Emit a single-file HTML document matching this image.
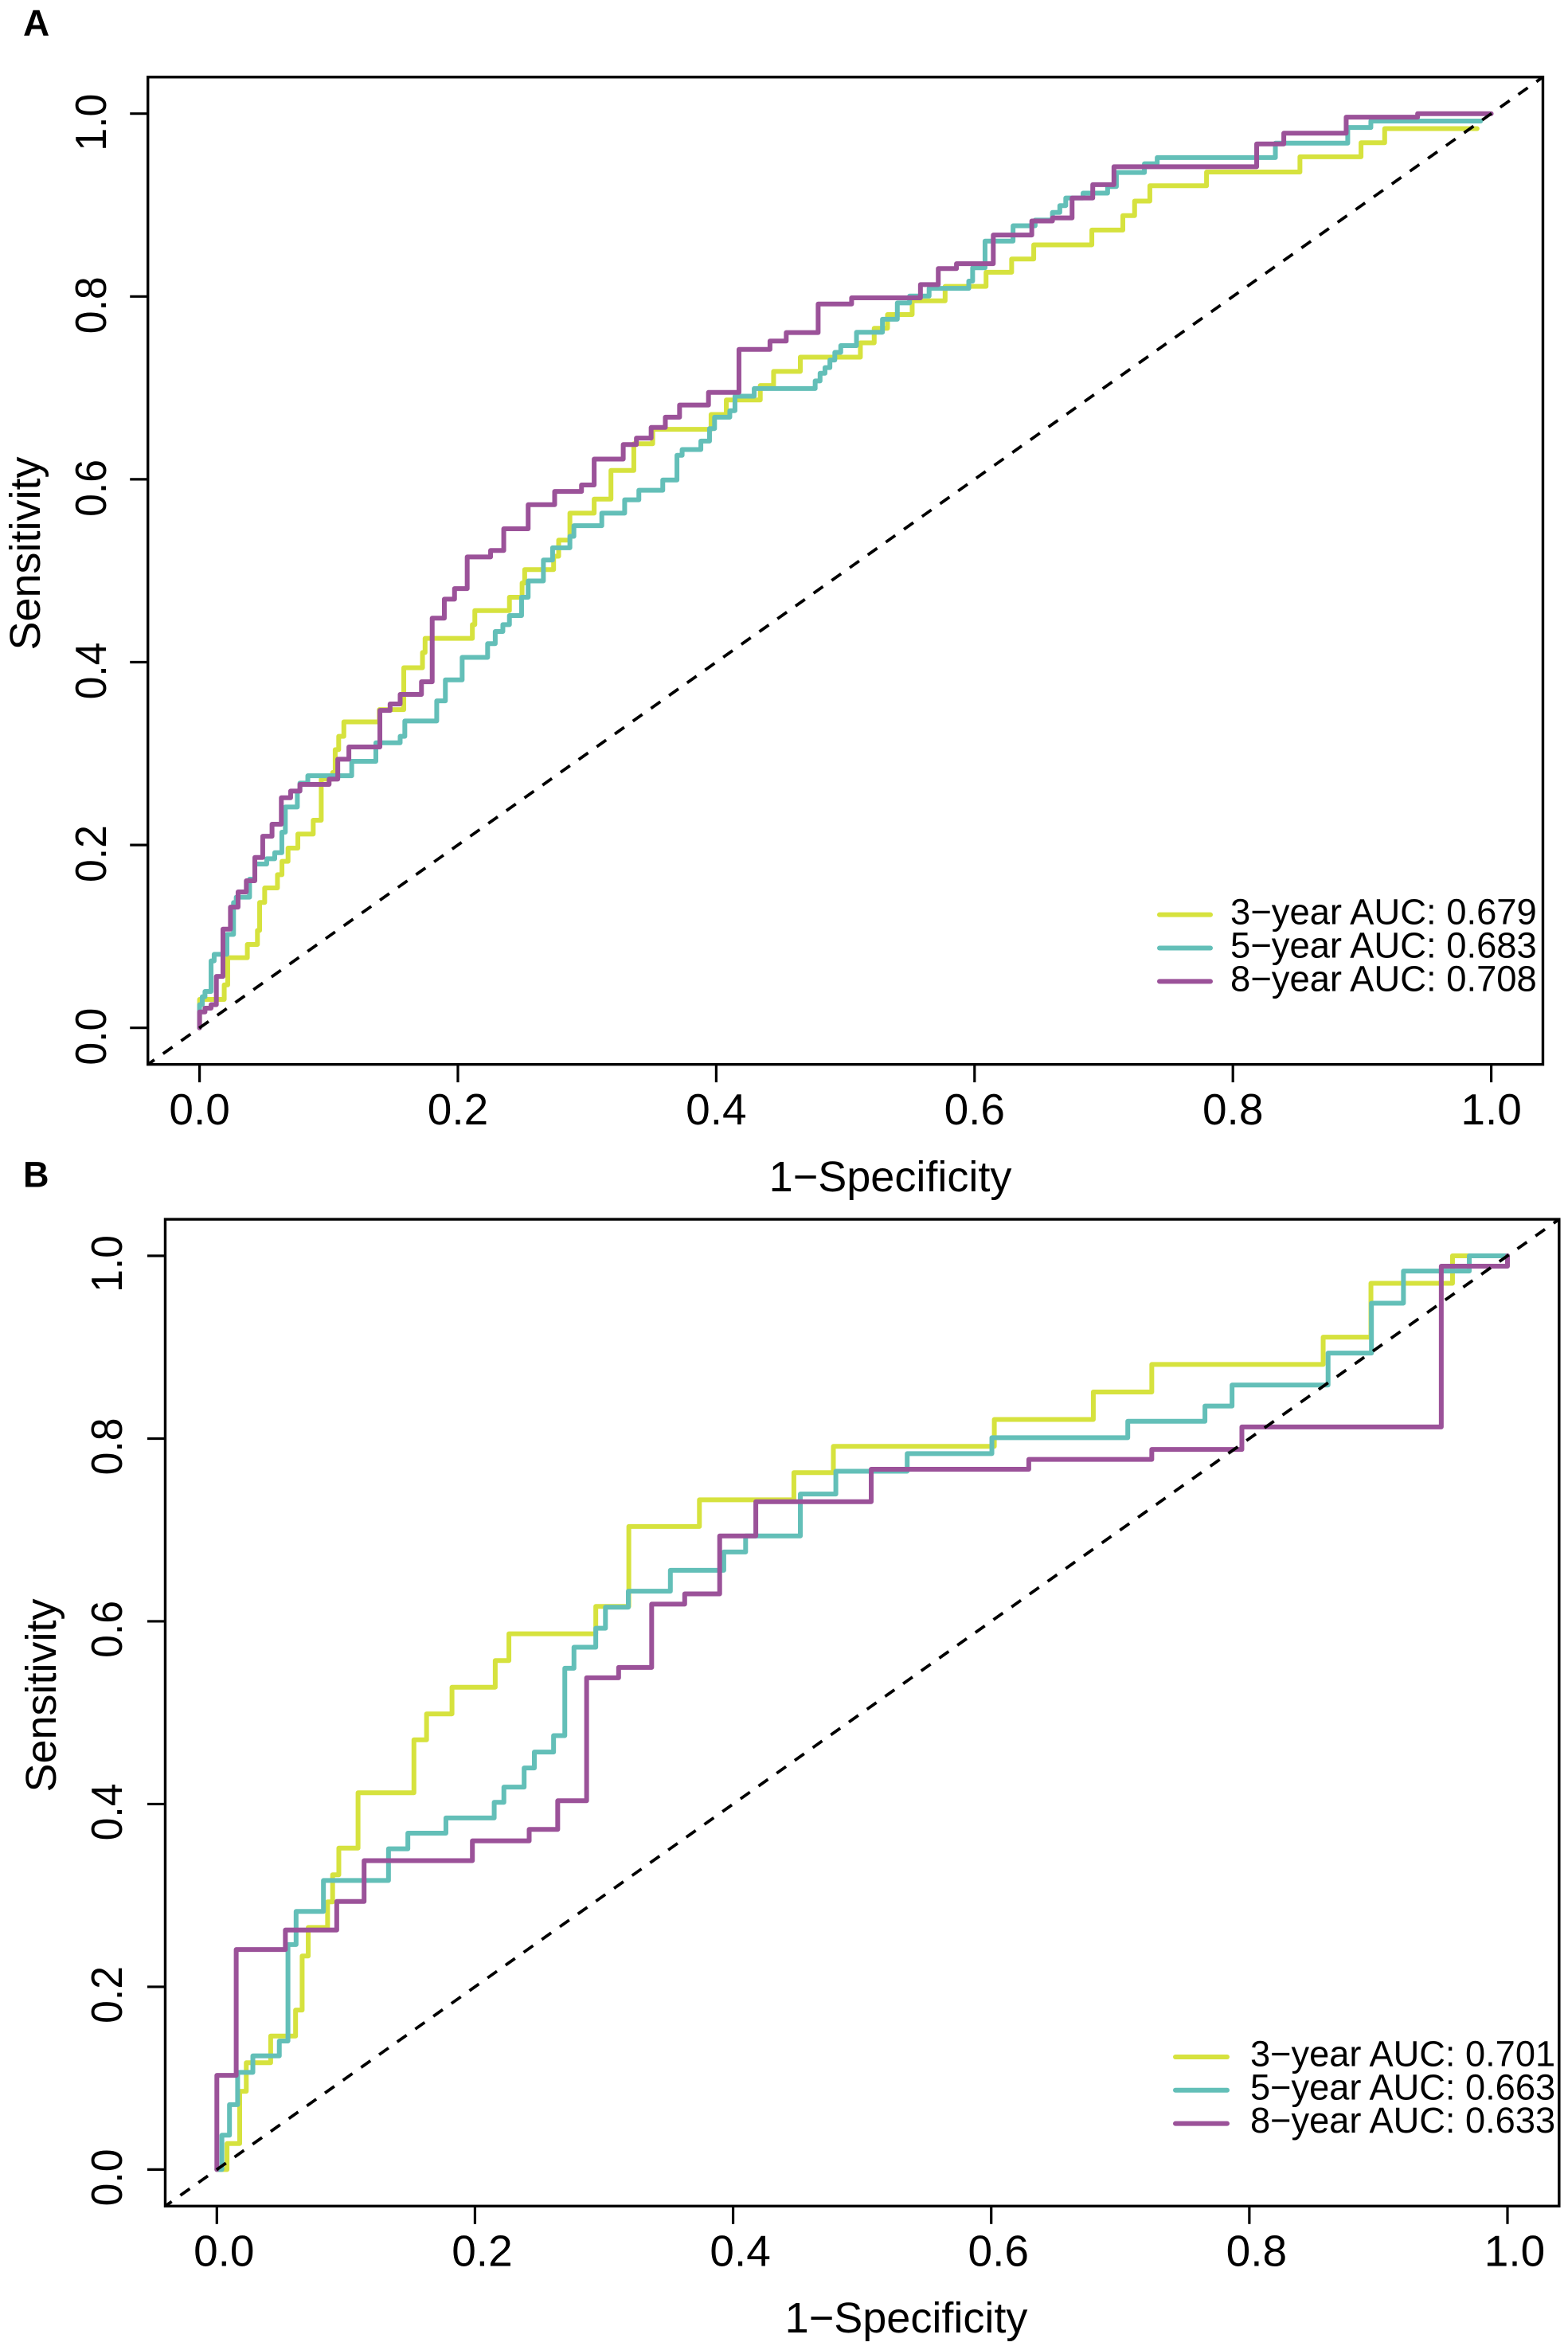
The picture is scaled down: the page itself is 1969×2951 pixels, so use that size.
<!DOCTYPE html>
<html lang="en">
<head>
<meta charset="utf-8">
<title>Time-dependent ROC curves</title>
<style>
html,body{margin:0;padding:0;background:#fff;}
body{width:1969px;height:2951px;overflow:hidden;}
svg{display:block;position:absolute;left:0;top:0;}
text{font-family:"Liberation Sans",Arial,sans-serif;fill:#000;}
</style>
</head>
<body>
<svg id="figure" xmlns="http://www.w3.org/2000/svg" width="1969" height="2951" viewBox="0 0 1969 2951">
  <rect x="0" y="0" width="1969" height="2951" fill="#fff"/>
  <text x="29" y="44.5" font-size="46" font-weight="700">A</text>
  <text x="29" y="1490.5" font-size="45" font-weight="700">B</text>
  <g id="panelA"></g>
  <g id="panelB"></g>
</svg>
<script>
// ---------- shared data ----------
const tickValues = [0, 0.2, 0.4, 0.6, 0.8, 1];
const tickLabels = ["0.0", "0.2", "0.4", "0.6", "0.8", "1.0"];
const xAxisTitle = "1\u2212Specificity";
const yAxisTitle = "Sensitivity";
const seriesNames = ["3-year", "5-year", "8-year"];

// ---------- panel A data ----------
const panelAAuc = ["0.679", "0.683", "0.708"];
const panelA3yX = [0,.0191,.0218,.037,.0448,.0465,.0504,.0603,.0638,.0685,.0761,.088,.0942,.103,.105,.1077,.1117,.1392,.1581,.1726,.1746,.2112,.2131,.2399,.2497,.2517,.2741,.278,.2867,.3055,.3185,.3362,.3508,.396,.4078,.4341,.4444,.4651,.5116,.5223,.5326,.5517,.5772,.6089,.6287,.6458,.6908,.7148,.7239,.7357,.7796,.8519,.8992,.9175,.9891];
const panelA3yY = [.0311,.047,.0767,.0912,.1066,.1371,.153,.1675,.1821,.1966,.212,.2271,.2721,.2793,.3043,.3189,.3347,.3481,.3939,.4106,.426,.441,.4564,.471,.4866,.5013,.5158,.5335,.563,.5784,.6097,.6389,.6547,.6709,.6868,.7026,.7181,.7336,.7493,.7652,.7802,.7952,.811,.8265,.841,.8565,.8727,.8885,.9044,.9211,.9361,.9528,.9682,.9836,.9836];
const panelA5yX = [0,.0021,.0042,.0089,.0113,.0212,.0263,.0284,.0387,.0428,.052,.0582,.0637,.0664,.0757,.0777,.0838,.1178,.1365,.1553,.1589,.1836,.1903,.2033,.223,.2289,.2348,.2399,.2493,.2544,.2662,.2733,.2867,.2898,.3114,.3291,.3401,.3586,.3696,.3736,.3881,.3948,.3987,.4105,.4145,.4294,.4766,.4804,.4842,.488,.4918,.4964,.5086,.5287,.5402,.5497,.5648,.5955,.5985,.6081,.6298,.6469,.6603,.666,.6706,.684,.703,.7098,.7315,.7414,.8329,.8889,.9068,.9918];
const panelA5yY = [.0253,.034,.0398,.0732,.0804,.1022,.137,.1429,.1626,.1792,.185,.1916,.214,.2416,.259,.2677,.2758,.2915,.3118,.3189,.3356,.3576,.3806,.4052,.4202,.4335,.441,.451,.471,.4888,.5117,.5251,.5376,.5493,.563,.5776,.588,.5993,.6263,.6326,.6418,.6555,.668,.6751,.6909,.6993,.7076,.716,.7222,.7305,.7388,.7463,.7609,.7751,.793,.8005,.8089,.8168,.8314,.8606,.8773,.8836,.8919,.8994,.9077,.9131,.9202,.9356,.9452,.9519,.9677,.9848,.9919,.9919];
const panelA8yX = [0,.0042,.0089,.013,.0181,.0239,.0298,.0362,.0428,.0489,.0561,.0633,.0705,.0777,.1003,.107,.1156,.1396,.1475,.1553,.1718,.1801,.1895,.1974,.2072,.2253,.2355,.2544,.2749,.2957,.3055,.328,.3382,.3496,.3606,.3716,.394,.4176,.4416,.4542,.4789,.5048,.5581,.5719,.586,.6145,.6443,.6603,.6755,.6915,.7079,.8184,.8394,.8877,.943,1];
const panelA8yY = [.0174,.0215,.0253,.0563,.108,.132,.1487,.1609,.1864,.2096,.2227,.2517,.259,.2663,.2721,.2938,.3072,.3472,.3543,.3647,.3785,.4481,.4689,.4805,.5151,.5222,.5459,.5722,.5867,.5938,.6221,.638,.6451,.6567,.668,.6813,.6951,.7421,.7513,.7605,.7918,.7985,.813,.8305,.8359,.8672,.8826,.886,.9077,.9223,.9419,.9669,.9786,.9961,1,1];

// ---------- panel B data ----------
const panelBAuc = ["0.701", "0.663", "0.633"];
const panelB3yX = [.0079,.0177,.0228,.0417,.061,.0661,.0708,.0858,.0897,.0945,.1094,.1527,.1625,.1822,.2157,.2263,.2936,.3192,.3739,.4471,.4777,.6024,.6791,.7244,.8572,.8942,.9574,1];
const panelB3yY = [.0284,.0856,.1169,.1461,.1745,.2337,.265,.293,.3226,.3518,.4124,.4703,.4987,.5279,.557,.5863,.6163,.7038,.733,.7627,.7915,.8209,.851,.8811,.911,.9699,1,1];
const panelB5yX = [.0039,.0098,.0161,.0279,.0484,.0551,.0614,.0826,.133,.148,.1775,.2149,.2224,.2381,.246,.2609,.2696,.2767,.2936,.3011,.3188,.3514,.3928,.4097,.4521,.4796,.5349,.6005,.7058,.7656,.7866,.861,.8946,.9194,.9704,1];
const panelB5yY = [.0376,.071,.1064,.1244,.1407,.2462,.2825,.3164,.351,.3681,.3848,.4019,.4186,.4395,.4569,.4749,.5487,.5716,.5925,.6154,.633,.6559,.6759,.6934,.7393,.7643,.7835,.801,.8189,.8356,.8586,.8936,.9482,.9833,1,1];
const panelB8yX = [0,.015,.0531,.0929,.1141,.198,.242,.2641,.2865,.3113,.3369,.3625,.3896,.4176,.507,.6291,.7244,.7942,.9487,1];
const panelB8yY = [.1031,.2408,.2621,.2934,.3381,.3598,.3723,.4036,.5382,.5495,.6188,.63,.6934,.7309,.7664,.7772,.7881,.8127,.9887,1];

const seriesColors = ["#D6E23E", "#63BFB8", "#9B5299"];

const SVG_NS = "http://www.w3.org/2000/svg";
function make(parent, tag, attrs, text) {
  const el = document.createElementNS(SVG_NS, tag);
  for (const k in attrs) el.setAttribute(k, attrs[k]);
  if (text !== undefined) el.textContent = text;
  parent.appendChild(el);
  return el;
}

function stepPath(xs, ys, xScale, yScale) {
  let d = "M" + xScale(0).toFixed(2) + " " + yScale(0).toFixed(2);
  for (let i = 0; i < xs.length; i++) {
    d += "H" + xScale(xs[i]).toFixed(2) + "V" + yScale(ys[i]).toFixed(2);
  }
  return d;
}

function drawPanel(root, key, cfg, curves, aucValues) {
  const xScale = v => cfg.x0 + cfg.xw * v;
  const yScale = v => cfg.y0 - cfg.yh * v;
  const left = xScale(-0.04), right = xScale(1.04), top = yScale(1.04), bottom = yScale(-0.04);

  // axis ticks + labels
  tickValues.forEach((v, i) => {
    const xt = make(root, "line", {x1: xScale(v), x2: xScale(v), y1: bottom, y2: bottom + 22.5, stroke: "#000", "stroke-width": 3.2});
    
    
    const xl = make(root, "text", {x: xScale(v) + cfg.xLabelShift, y: cfg.xLabelY, "font-size": 55, "text-anchor": "middle"}, tickLabels[i]);
    
    
    const yt = make(root, "line", {x1: left - 22.5, x2: left, y1: yScale(v), y2: yScale(v), stroke: "#000", "stroke-width": 3.2});
    
    
    const ly = yScale(v) + cfg.yLabelShift;
    const yl = make(root, "text", {x: 0, y: 0, "font-size": 55, "text-anchor": "middle", transform: "translate(" + cfg.yLabelX + " " + ly + ") rotate(-90) scale(0.94 1)"}, tickLabels[i]);
    
    
  });

  // curves
  curves.forEach((c, i) => {
    const p = make(root, "path", {d: stepPath(c[0], c[1], xScale, yScale), fill: "none", stroke: seriesColors[i], "stroke-width": 6, "stroke-linejoin": "round", "stroke-linecap": "round"});
    
    
  });

  // reference diagonal
  const diag = make(root, "line", {x1: xScale(-0.04), y1: yScale(-0.04), x2: xScale(1.04), y2: yScale(1.04), stroke: "#000", "stroke-width": 3.8, "stroke-dasharray": "14.5 13.3", "stroke-dashoffset": 4.5});
  
  

  // plot box
  const box = make(root, "rect", {x: left, y: top, width: right - left, height: bottom - top, fill: "none", stroke: "#000", "stroke-width": 3.4});
  
  

  // titles
  const xTitle = make(root, "text", {x: cfg.xTitleX, y: cfg.xTitleY, "font-size": 54, "text-anchor": "middle"}, xAxisTitle);
  
  
  const yTitle = make(root, "text", {x: cfg.yTitleX, y: cfg.yTitleY, "font-size": 54, "text-anchor": "middle", transform: "rotate(-90 " + cfg.yTitleX + " " + cfg.yTitleY + ")"}, yAxisTitle);
  
  

  // legend
  seriesNames.forEach((name, i) => {
    const swatch = make(root, "line", {x1: cfg.legX1, x2: cfg.legX2, y1: cfg.legLineY + i * cfg.legStep, y2: cfg.legLineY + i * cfg.legStep, stroke: seriesColors[i], "stroke-width": 6, "stroke-linecap": "round"});
    
    
    const label = make(root, "text", {x: cfg.legTextX, y: cfg.legTextY + i * cfg.legStep, "font-size": cfg.legFont}, name.replace("-", "\u2212") + " AUC: " + aucValues[i]);
    
    
  });
}

drawPanel(document.getElementById("panelA"), "panel-a", {
  x0: 250.6, xw: 1622, y0: 1290.7, yh: 1148,
  xLabelShift: 0, xLabelY: 1412, yLabelX: 133, yLabelShift: 11,
  xTitleX: 1118, xTitleY: 1496, yTitleX: 50, yTitleY: 695,
  legX1: 1456, legX2: 1520, legLineY: 1148.6, legStep: 41.9, legTextX: 1545, legTextY: 1160.5, legFont: 45.4
}, [[panelA3yX, panelA3yY], [panelA5yX, panelA5yY], [panelA8yX, panelA8yY]], panelAAuc);

drawPanel(document.getElementById("panelB"), "panel-b", {
  x0: 272.3, xw: 1620.7, y0: 2724.4, yh: 1147.4,
  xLabelShift: 9, xLabelY: 2845.6, yLabelX: 153, yLabelShift: 10,
  xTitleX: 1138, xTitleY: 2929, yTitleX: 70, yTitleY: 2129,
  legX1: 1476, legX2: 1541, legLineY: 2583, legStep: 41.8, legTextX: 1570, legTextY: 2594.6, legFont: 45.2
}, [[panelB3yX, panelB3yY], [panelB5yX, panelB5yY], [panelB8yX, panelB8yY]], panelBAuc);
</script>
</body>
</html>
